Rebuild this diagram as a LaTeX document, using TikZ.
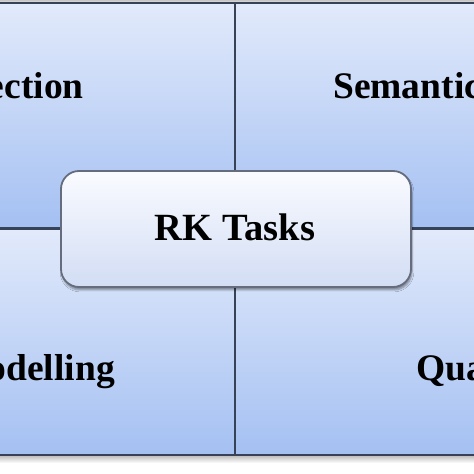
\documentclass[tikz,border=0pt]{standalone}
\usepackage{fontspec}
\setmainfont{Liberation Serif}
\usetikzlibrary{shadows.blur}
\definecolor{qtop}{RGB}{226,234,251}
\definecolor{qbot}{RGB}{164,192,242}
\definecolor{qline}{RGB}{55,66,86}
\definecolor{ctop}{RGB}{250,251,255}
\definecolor{cbot}{RGB}{210,221,244}
\definecolor{cline}{RGB}{100,108,125}
\tikzset{
  quad/.style={draw=qline, line width=2.4pt, top color=qtop, bottom color=qbot},
  qlabel/.style={inner sep=0pt, font=\fontsize{37.5}{41}\selectfont\bfseries},
  clabel/.style={inner sep=0pt, font=\fontsize{38.5}{42}\selectfont\bfseries},
  centerbox/.style={draw=cline, line width=1.8pt, rounded corners=18pt,
    top color=ctop, bottom color=cbot,
    blur shadow={shadow xshift=1pt, shadow yshift=-3pt, shadow blur steps=6, shadow opacity=40}},
}
\begin{document}
\begin{tikzpicture}[x=1pt,y=1pt]
\useasboundingbox (0,0) rectangle (474,474);
\fill[white] (0,0) rectangle (474,474);
% top grey edge and bottom shadow
\shade[top color=gray!45, bottom color=gray!15] (0,471) rectangle (474,474);
\shade[top color=gray!55, bottom color=white] (0,11) rectangle (474,19);
% quadrants
\path[quad] (-20,246) rectangle (235,471);
\path[quad] (235,246) rectangle (500,471);
\path[quad] (-20,19) rectangle (235,245);
\path[quad] (235,19) rectangle (500,245);
% labels
\node[qlabel, anchor=base east] (tl) at (84,375) {ection};
\node[qlabel, anchor=base west] (tr) at (333,375) {Semantic};
\node[qlabel, anchor=base east] (bl) at (115,93) {odelling};
\node[qlabel, anchor=base west] (br) at (416,93) {Qua};
% centre
\path[centerbox] (61,187) rectangle (411,303);
\node[clabel, anchor=base] (tasks) at (235,233) {RK Tasks};
\end{tikzpicture}
\end{document}
